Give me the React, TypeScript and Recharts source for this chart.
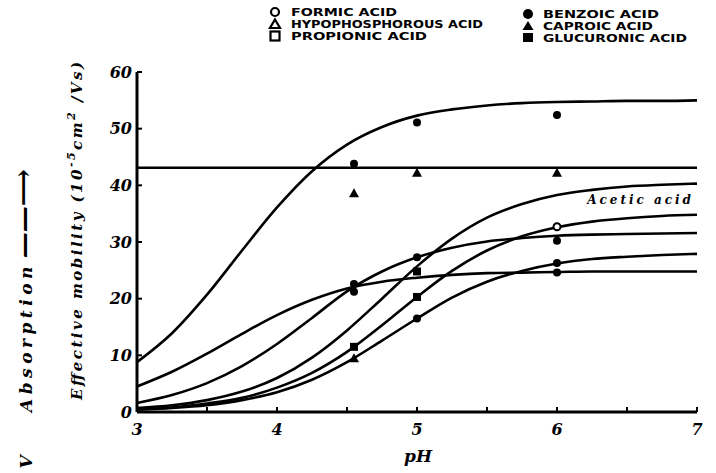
import React from 'react';
import { ComposedChart, Line, Scatter, XAxis, YAxis } from 'recharts';

const phGrid = [3, 3.25, 3.5, 3.75, 4, 4.25, 4.5, 4.75, 5, 5.25, 5.5, 5.75, 6, 6.25, 6.5, 6.75, 7];

// Fitted curves (effective mobility, 10^-5 cm^2/Vs)
const curveTop = [8.8, 13.9, 20.7, 28.5, 36.1, 42.5, 47.2, 50.3, 52.3, 53.4, 54.1, 54.5, 54.7, 54.8, 54.9, 54.9, 55.0];
const curveFlat = [43.1, 43.1, 43.1, 43.1, 43.1, 43.1, 43.1, 43.1, 43.1, 43.1, 43.1, 43.1, 43.1, 43.1, 43.1, 43.1, 43.1];
const curveAcetic = [0.7, 1.2, 2.1, 3.6, 6.0, 9.6, 14.4, 20.0, 25.7, 30.6, 34.3, 36.7, 38.3, 39.2, 39.8, 40.1, 40.3];
const curve35 = [0.5, 0.8, 1.5, 2.5, 4.3, 6.9, 10.6, 15.3, 20.3, 24.9, 28.5, 31.0, 32.6, 33.6, 34.2, 34.6, 34.8];
const curve31 = [1.6, 3.0, 5.1, 8.1, 12.0, 16.6, 21.3, 24.8, 27.3, 29.0, 30.1, 30.7, 31.1, 31.3, 31.4, 31.5, 31.6];
const curve28 = [0.4, 0.7, 1.2, 2.1, 3.5, 5.7, 8.8, 12.6, 16.5, 20.2, 23.0, 24.9, 26.2, 27.0, 27.4, 27.7, 27.9];
const curve25 = [4.5, 7.1, 10.3, 13.8, 17.1, 19.8, 21.8, 23.0, 23.7, 24.2, 24.5, 24.6, 24.7, 24.8, 24.8, 24.8, 24.8];

// Measured points
const filledCirclePh = [4.55, 5, 6, 4.55, 5, 6, 5, 6, 6, 4.55];
const filledCircleVal = [43.8, 51.1, 52.4, 22.6, 27.3, 30.2, 16.5, 26.3, 24.6, 21.2];
const filledTrianglePh = [4.55, 5, 6, 4.55];
const filledTriangleVal = [38.6, 42.2, 42.2, 9.5];
const filledSquarePh = [4.55, 5, 5];
const filledSquareVal = [11.5, 20.3, 24.8];
const openCirclePh = [6];
const openCircleVal = [32.7];

// Axes
const xTicks = [3, 3.5, 4, 4.5, 5, 5.5, 6, 6.5, 7];
const yTicks = [0, 10, 20, 30, 40, 50, 60];

// Legend
const legendLeft = ['FORMIC ACID', 'HYPOPHOSPHOROUS ACID', 'PROPIONIC ACID'];
const legendRight = ['BENZOIC ACID', 'CAPROIC ACID', 'GLUCURONIC ACID'];

const rows = phGrid.map((ph, i) => ({
  ph,
  top: curveTop[i],
  flat: curveFlat[i],
  acetic: curveAcetic[i],
  c35: curve35[i],
  c31: curve31[i],
  c28: curve28[i],
  c25: curve25[i],
}));

const pts = (xs: number[], ys: number[]) => xs.map((ph, i) => ({ ph, v: ys[i] }));

const SERIF = '"DejaVu Serif", serif';
const LEG = '"DejaVu Sans Condensed", "DejaVu Sans", sans-serif';

const FilledCircle = (p: any) => <circle cx={p.cx} cy={p.cy} r={4} fill="#000" />;
const OpenCircle = (p: any) => <circle cx={p.cx} cy={p.cy} r={3.5} fill="#fff" stroke="#000" strokeWidth={2} />;
const FilledTriangle = (p: any) => (
  <path d={`M${p.cx},${p.cy - 5} L${p.cx + 5},${p.cy + 4} L${p.cx - 5},${p.cy + 4} Z`} fill="#000" />
);
const FilledSquare = (p: any) => <rect x={p.cx - 4} y={p.cy - 4} width={8} height={8} fill="#000" />;

const tickStyle = { fontFamily: SERIF, fontSize: 16, fontWeight: 700, fontStyle: 'italic', fill: '#000' };

export default function App() {
  const curveKeys = ['top', 'flat', 'acetic', 'c35', 'c31', 'c28', 'c25'];
  const leftWidths = [106, 192, 136];
  const rightWidths = [116, 110, 144];
  return (
    <div style={{ position: 'absolute', left: 0, top: 0, width: 716, height: 473, background: '#fff' }}>
      <ComposedChart
        width={716}
        height={473}
        data={rows}
        margin={{ top: 72, right: 19, bottom: 31, left: 77 }}
      >
        <XAxis
          dataKey="ph"
          type="number"
          domain={[3, 7]}
          ticks={xTicks}
          interval={0}
          tickFormatter={(v: number) => (Number.isInteger(v) ? String(v) : '')}
          height={30}
          tickSize={-5}
          tickMargin={17}
          axisLine={{ stroke: '#000', strokeWidth: 3 }}
          tickLine={{ stroke: '#000', strokeWidth: 2 }}
          tick={tickStyle}
        />
        <XAxis
          xAxisId="top"
          orientation="top"
          type="number"
          domain={[3, 7]}
          ticks={xTicks}
          interval={0}
          height={0}
          tickSize={-5}
          tick={false}
          axisLine={{ stroke: '#000', strokeWidth: 3 }}
          tickLine={{ stroke: '#000', strokeWidth: 2 }}
        />
        <YAxis
          type="number"
          domain={[0, 60]}
          ticks={yTicks}
          interval={0}
          width={60}
          tickSize={-5}
          tickMargin={10}
          axisLine={{ stroke: '#000', strokeWidth: 3 }}
          tickLine={{ stroke: '#000', strokeWidth: 2 }}
          tick={tickStyle}
        />
        <YAxis
          yAxisId="right"
          orientation="right"
          type="number"
          domain={[0, 60]}
          ticks={yTicks}
          interval={0}
          width={0}
          tickSize={-5}
          tick={false}
          axisLine={{ stroke: '#000', strokeWidth: 3 }}
          tickLine={{ stroke: '#000', strokeWidth: 2 }}
        />
        {curveKeys.map((k) => (
          <Line
            key={k}
            dataKey={k}
            type="monotone"
            stroke="#000"
            strokeWidth={2.6}
            dot={false}
            activeDot={false}
            isAnimationActive={false}
          />
        ))}
        <Scatter data={pts(filledCirclePh, filledCircleVal)} dataKey="v" shape={FilledCircle} isAnimationActive={false} />
        <Scatter data={pts(filledTrianglePh, filledTriangleVal)} dataKey="v" shape={FilledTriangle} isAnimationActive={false} />
        <Scatter data={pts(filledSquarePh, filledSquareVal)} dataKey="v" shape={FilledSquare} isAnimationActive={false} />
        <Scatter data={pts(openCirclePh, openCircleVal)} dataKey="v" shape={OpenCircle} isAnimationActive={false} />
      </ComposedChart>
      <svg
        width={716}
        height={473}
        style={{ position: 'absolute', left: 0, top: 0, pointerEvents: 'none' }}
      >
        {/* Legend, left column */}
        <circle cx={275} cy={12} r={4} fill="#fff" stroke="#000" strokeWidth={2.2} />
        <path d="M275,19.5 L280,28 L270,28 Z" fill="#fff" stroke="#000" strokeWidth={2.2} />
        <rect x={270.5} y={31.5} width={9} height={9} fill="#fff" stroke="#000" strokeWidth={2.2} />
        {legendLeft.map((t, i) => (
          <text
            key={t}
            x={291}
            y={16 + i * 12}
            fontFamily={LEG}
            fontWeight={700}
            fontSize={10.5}
            textLength={leftWidths[i]}
            lengthAdjust="spacingAndGlyphs"
            fill="#000"
          >
            {t}
          </text>
        ))}
        {/* Legend, right column */}
        <circle cx={528} cy={14} r={5} fill="#000" />
        <path d="M528,21 L533.5,30 L522.5,30 Z" fill="#000" />
        <rect x={523} y={33} width={10} height={9} fill="#000" />
        {legendRight.map((t, i) => (
          <text
            key={t}
            x={543}
            y={18 + i * 12}
            fontFamily={LEG}
            fontWeight={700}
            fontSize={10.5}
            textLength={rightWidths[i]}
            lengthAdjust="spacingAndGlyphs"
            fill="#000"
          >
            {t}
          </text>
        ))}
        {/* Curve annotation */}
        <text
          x={694}
          y={204}
          textAnchor="end"
          fontFamily={SERIF}
          fontWeight={700}
          fontStyle="italic"
          fontSize={12}
          letterSpacing={3}
          fill="#000"
        >
          Acetic acid
        </text>
        {/* Y axis title */}
        <text
          transform="translate(82,231) rotate(-90)"
          textAnchor="middle"
          fontFamily={SERIF}
          fontWeight={700}
          fontStyle="italic"
          fontSize={15}
          fill="#000"
          textLength={338}
          lengthAdjust="spacing"
        >
          Effective  mobility (10<tspan dy={-7} fontSize={11}>-5</tspan>
          <tspan dy={7}>cm</tspan>
          <tspan dy={-7} fontSize={11}>2</tspan>
          <tspan dy={7}> /Vs)</tspan>
        </text>
        {/* Outer title fragment */}
        <text
          transform="translate(32,412) rotate(-90)"
          textAnchor="start"
          fontFamily={SERIF}
          fontWeight={700}
          fontStyle="italic"
          fontSize={17}
          letterSpacing={4.5}
          fill="#000"
        >
          Absorption<tspan dx={4} letterSpacing={0} fontSize={26}>——⟶</tspan>
        </text>
        <text
          transform="translate(32,462) rotate(-90)"
          textAnchor="middle"
          fontFamily={SERIF}
          fontWeight={700}
          fontStyle="italic"
          fontSize={17}
          fill="#000"
        >
          V
        </text>
        {/* X axis title */}
        <text
          x={418}
          y={462}
          textAnchor="middle"
          fontFamily={SERIF}
          fontWeight={700}
          fontStyle="italic"
          fontSize={17}
          fill="#000"
        >
          pH
        </text>
      </svg>
    </div>
  );
}
